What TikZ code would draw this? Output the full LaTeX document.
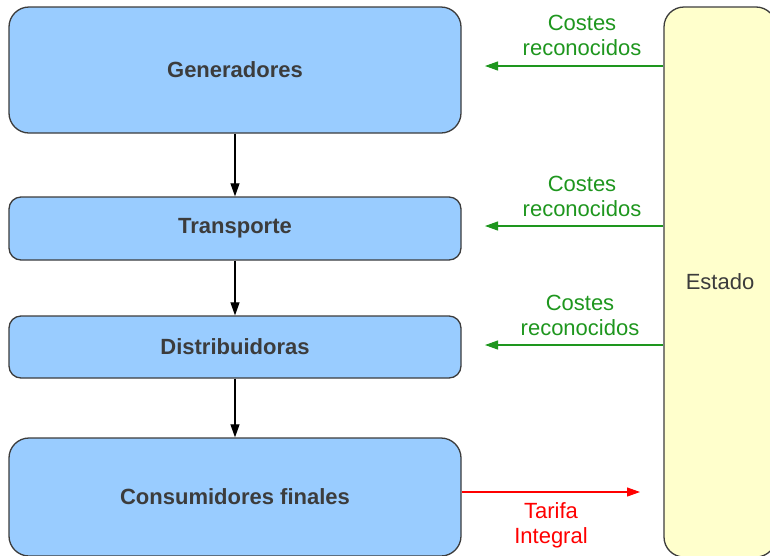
\documentclass[tikz,border=0pt]{standalone}
\usepackage{fontspec}
\setmainfont{Liberation Sans}
\usetikzlibrary{arrows.meta}
\definecolor{azulcaja}{HTML}{99CCFF}
\definecolor{amarillo}{HTML}{FFFFCC}
\definecolor{borde}{HTML}{3C3C3C}
\definecolor{verde}{HTML}{1E961E}
\begin{document}
\begin{tikzpicture}[x=1pt,y=-1pt]
\tikzstyle{every node}=[font=\fontsize{22}{25}\selectfont]
\tikzstyle{caja}=[draw=borde,fill=azulcaja,line width=1.3pt,minimum width=452pt,text=borde,font=\fontsize{22}{25}\selectfont\bfseries]
\tikzstyle{flecha}=[-{Triangle[length=13pt,width=9pt]},line width=1.1pt]
\useasboundingbox (0,0) rectangle (770,555);
\node[caja,rounded corners=20pt,minimum height=126pt](gen) at (235,70){Generadores};
\node[caja,rounded corners=12pt,minimum height=63pt](tra) at (235,228.5){Transporte};
\node[caja,rounded corners=12pt,minimum height=62pt](dis) at (235,347){Distribuidoras};
\node[caja,rounded corners=20pt,minimum height=118pt](con) at (235,497){Consumidores finales};
\node[draw=borde,fill=amarillo,line width=1.3pt,rounded corners=20pt,minimum width=112pt,minimum height=550pt,text=borde](est) at (720,282){Estado};
\draw[flecha](gen)--(tra);
\draw[flecha](tra)--(dis);
\draw[flecha](dis)--(con);
% costes reconocidos
\coordinate(c1) at (485,66);
\coordinate(c2) at (485,226);
\coordinate(c3) at (485,345);
\draw[flecha,verde](est.west|-c1)--(c1);
\draw[flecha,verde](est.west|-c2)--(c2);
\draw[flecha,verde](est.west|-c3)--(c3);
\node[verde,align=center](l1) at (582,35){Costes\\reconocidos};
\node[verde,align=center](l2) at (582,196){Costes\\reconocidos};
\node[verde,align=center](l3) at (580,315){Costes\\reconocidos};
% tarifa
\coordinate(t) at (640,492);
\draw[flecha,red](con.east|-t)--(t);
\node[red,align=center](lt) at (551,525){Tarifa\\Integral};
\end{tikzpicture}
\end{document}
